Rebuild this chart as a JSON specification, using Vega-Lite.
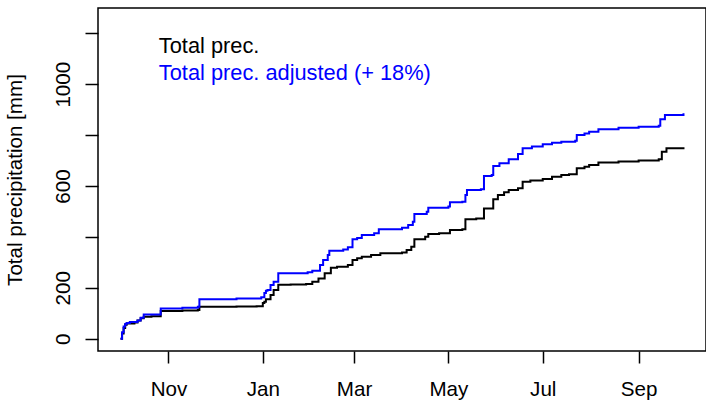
{
  "$schema": "https://vega.github.io/schema/vega-lite/v6.json",
  "width": 608,
  "height": 343,
  "autosize": {"type": "none"},
  "padding": {"left": 98, "top": 8, "right": 0, "bottom": 53},
  "background": "white",
  "config": {
    "font": "Liberation Sans",
    "view": {"stroke": "black", "strokeWidth": 1.5}
  },
  "data": {"values": [
    {"date":"2010-10-01T00:00","v":0,"s":"Total prec."},
    {"date":"2010-10-02T00:00","v":20,"s":"Total prec."},
    {"date":"2010-10-03T00:00","v":42,"s":"Total prec."},
    {"date":"2010-10-04T00:00","v":55,"s":"Total prec."},
    {"date":"2010-10-05T00:00","v":60,"s":"Total prec."},
    {"date":"2010-10-10T00:00","v":64,"s":"Total prec."},
    {"date":"2010-10-12T00:00","v":72,"s":"Total prec."},
    {"date":"2010-10-14T00:00","v":80,"s":"Total prec."},
    {"date":"2010-10-16T00:00","v":86,"s":"Total prec."},
    {"date":"2010-10-21T00:00","v":88,"s":"Total prec."},
    {"date":"2010-10-27T00:00","v":109,"s":"Total prec."},
    {"date":"2010-11-10T00:00","v":111,"s":"Total prec."},
    {"date":"2010-11-20T00:00","v":113,"s":"Total prec."},
    {"date":"2010-11-21T00:00","v":126,"s":"Total prec."},
    {"date":"2010-12-15T00:00","v":127,"s":"Total prec."},
    {"date":"2010-12-28T00:00","v":128,"s":"Total prec."},
    {"date":"2011-01-01T00:00","v":140,"s":"Total prec."},
    {"date":"2011-01-02T00:00","v":145,"s":"Total prec."},
    {"date":"2011-01-03T00:00","v":155,"s":"Total prec."},
    {"date":"2011-01-06T00:00","v":172,"s":"Total prec."},
    {"date":"2011-01-08T00:00","v":191,"s":"Total prec."},
    {"date":"2011-01-11T00:00","v":212,"s":"Total prec."},
    {"date":"2011-01-19T00:00","v":213,"s":"Total prec."},
    {"date":"2011-01-29T00:00","v":215,"s":"Total prec."},
    {"date":"2011-02-02T00:00","v":224,"s":"Total prec."},
    {"date":"2011-02-06T00:00","v":237,"s":"Total prec."},
    {"date":"2011-02-10T00:00","v":257,"s":"Total prec."},
    {"date":"2011-02-14T00:00","v":279,"s":"Total prec."},
    {"date":"2011-02-18T00:00","v":283,"s":"Total prec."},
    {"date":"2011-02-25T00:00","v":290,"s":"Total prec."},
    {"date":"2011-02-28T00:00","v":309,"s":"Total prec."},
    {"date":"2011-03-03T00:00","v":316,"s":"Total prec."},
    {"date":"2011-03-06T00:00","v":322,"s":"Total prec."},
    {"date":"2011-03-12T00:00","v":329,"s":"Total prec."},
    {"date":"2011-03-18T00:00","v":336,"s":"Total prec."},
    {"date":"2011-04-01T00:00","v":339,"s":"Total prec."},
    {"date":"2011-04-04T00:00","v":349,"s":"Total prec."},
    {"date":"2011-04-07T00:00","v":361,"s":"Total prec."},
    {"date":"2011-04-09T00:00","v":391,"s":"Total prec."},
    {"date":"2011-04-16T00:00","v":401,"s":"Total prec."},
    {"date":"2011-04-18T00:00","v":411,"s":"Total prec."},
    {"date":"2011-04-25T00:00","v":414,"s":"Total prec."},
    {"date":"2011-05-02T00:00","v":427,"s":"Total prec."},
    {"date":"2011-05-10T00:00","v":430,"s":"Total prec."},
    {"date":"2011-05-12T00:00","v":469,"s":"Total prec."},
    {"date":"2011-05-19T00:00","v":472,"s":"Total prec."},
    {"date":"2011-05-24T00:00","v":512,"s":"Total prec."},
    {"date":"2011-05-30T00:00","v":548,"s":"Total prec."},
    {"date":"2011-06-02T00:00","v":565,"s":"Total prec."},
    {"date":"2011-06-06T00:00","v":575,"s":"Total prec."},
    {"date":"2011-06-09T00:00","v":584,"s":"Total prec."},
    {"date":"2011-06-15T00:00","v":591,"s":"Total prec."},
    {"date":"2011-06-18T00:00","v":617,"s":"Total prec."},
    {"date":"2011-06-23T00:00","v":622,"s":"Total prec."},
    {"date":"2011-07-01T00:00","v":628,"s":"Total prec."},
    {"date":"2011-07-07T00:00","v":636,"s":"Total prec."},
    {"date":"2011-07-13T00:00","v":643,"s":"Total prec."},
    {"date":"2011-07-18T00:00","v":646,"s":"Total prec."},
    {"date":"2011-07-23T00:00","v":670,"s":"Total prec."},
    {"date":"2011-07-28T00:00","v":676,"s":"Total prec."},
    {"date":"2011-07-31T00:00","v":683,"s":"Total prec."},
    {"date":"2011-08-06T00:00","v":692,"s":"Total prec."},
    {"date":"2011-08-19T00:00","v":696,"s":"Total prec."},
    {"date":"2011-09-01T00:00","v":700,"s":"Total prec."},
    {"date":"2011-09-14T00:00","v":705,"s":"Total prec."},
    {"date":"2011-09-16T00:00","v":735,"s":"Total prec."},
    {"date":"2011-09-19T00:00","v":748,"s":"Total prec."},
    {"date":"2011-09-30T00:00","v":752,"s":"Total prec."},
    {"date":"2010-10-01T00:00","v":0,"s":"Total prec. adjusted (+ 18%)"},
    {"date":"2010-10-02T00:00","v":25,"s":"Total prec. adjusted (+ 18%)"},
    {"date":"2010-10-03T00:00","v":48,"s":"Total prec. adjusted (+ 18%)"},
    {"date":"2010-10-04T00:00","v":58,"s":"Total prec. adjusted (+ 18%)"},
    {"date":"2010-10-05T00:00","v":62,"s":"Total prec. adjusted (+ 18%)"},
    {"date":"2010-10-07T00:00","v":66,"s":"Total prec. adjusted (+ 18%)"},
    {"date":"2010-10-12T00:00","v":72,"s":"Total prec. adjusted (+ 18%)"},
    {"date":"2010-10-14T00:00","v":82,"s":"Total prec. adjusted (+ 18%)"},
    {"date":"2010-10-16T00:00","v":95,"s":"Total prec. adjusted (+ 18%)"},
    {"date":"2010-10-27T00:00","v":119,"s":"Total prec. adjusted (+ 18%)"},
    {"date":"2010-11-10T00:00","v":122,"s":"Total prec. adjusted (+ 18%)"},
    {"date":"2010-11-20T00:00","v":126,"s":"Total prec. adjusted (+ 18%)"},
    {"date":"2010-11-21T00:00","v":155,"s":"Total prec. adjusted (+ 18%)"},
    {"date":"2010-12-15T00:00","v":158,"s":"Total prec. adjusted (+ 18%)"},
    {"date":"2010-12-31T00:00","v":163,"s":"Total prec. adjusted (+ 18%)"},
    {"date":"2011-01-02T00:00","v":180,"s":"Total prec. adjusted (+ 18%)"},
    {"date":"2011-01-03T00:00","v":188,"s":"Total prec. adjusted (+ 18%)"},
    {"date":"2011-01-04T00:00","v":191,"s":"Total prec. adjusted (+ 18%)"},
    {"date":"2011-01-06T00:00","v":211,"s":"Total prec. adjusted (+ 18%)"},
    {"date":"2011-01-08T00:00","v":224,"s":"Total prec. adjusted (+ 18%)"},
    {"date":"2011-01-11T00:00","v":257,"s":"Total prec. adjusted (+ 18%)"},
    {"date":"2011-01-30T00:00","v":261,"s":"Total prec. adjusted (+ 18%)"},
    {"date":"2011-02-02T00:00","v":267,"s":"Total prec. adjusted (+ 18%)"},
    {"date":"2011-02-07T00:00","v":290,"s":"Total prec. adjusted (+ 18%)"},
    {"date":"2011-02-09T00:00","v":309,"s":"Total prec. adjusted (+ 18%)"},
    {"date":"2011-02-12T00:00","v":329,"s":"Total prec. adjusted (+ 18%)"},
    {"date":"2011-02-13T00:00","v":346,"s":"Total prec. adjusted (+ 18%)"},
    {"date":"2011-02-22T00:00","v":351,"s":"Total prec. adjusted (+ 18%)"},
    {"date":"2011-02-25T00:00","v":359,"s":"Total prec. adjusted (+ 18%)"},
    {"date":"2011-02-28T00:00","v":391,"s":"Total prec. adjusted (+ 18%)"},
    {"date":"2011-03-03T00:00","v":396,"s":"Total prec. adjusted (+ 18%)"},
    {"date":"2011-03-06T00:00","v":407,"s":"Total prec. adjusted (+ 18%)"},
    {"date":"2011-03-14T00:00","v":414,"s":"Total prec. adjusted (+ 18%)"},
    {"date":"2011-03-17T00:00","v":430,"s":"Total prec. adjusted (+ 18%)"},
    {"date":"2011-04-01T00:00","v":436,"s":"Total prec. adjusted (+ 18%)"},
    {"date":"2011-04-05T00:00","v":447,"s":"Total prec. adjusted (+ 18%)"},
    {"date":"2011-04-08T00:00","v":460,"s":"Total prec. adjusted (+ 18%)"},
    {"date":"2011-04-09T00:00","v":490,"s":"Total prec. adjusted (+ 18%)"},
    {"date":"2011-04-17T00:00","v":499,"s":"Total prec. adjusted (+ 18%)"},
    {"date":"2011-04-18T00:00","v":515,"s":"Total prec. adjusted (+ 18%)"},
    {"date":"2011-05-01T00:00","v":519,"s":"Total prec. adjusted (+ 18%)"},
    {"date":"2011-05-02T00:00","v":536,"s":"Total prec. adjusted (+ 18%)"},
    {"date":"2011-05-10T00:00","v":538,"s":"Total prec. adjusted (+ 18%)"},
    {"date":"2011-05-12T00:00","v":565,"s":"Total prec. adjusted (+ 18%)"},
    {"date":"2011-05-13T00:00","v":584,"s":"Total prec. adjusted (+ 18%)"},
    {"date":"2011-05-22T00:00","v":587,"s":"Total prec. adjusted (+ 18%)"},
    {"date":"2011-05-24T00:00","v":639,"s":"Total prec. adjusted (+ 18%)"},
    {"date":"2011-05-29T00:00","v":643,"s":"Total prec. adjusted (+ 18%)"},
    {"date":"2011-05-30T00:00","v":679,"s":"Total prec. adjusted (+ 18%)"},
    {"date":"2011-06-03T00:00","v":689,"s":"Total prec. adjusted (+ 18%)"},
    {"date":"2011-06-09T00:00","v":705,"s":"Total prec. adjusted (+ 18%)"},
    {"date":"2011-06-15T00:00","v":726,"s":"Total prec. adjusted (+ 18%)"},
    {"date":"2011-06-18T00:00","v":748,"s":"Total prec. adjusted (+ 18%)"},
    {"date":"2011-06-24T00:00","v":755,"s":"Total prec. adjusted (+ 18%)"},
    {"date":"2011-07-01T00:00","v":764,"s":"Total prec. adjusted (+ 18%)"},
    {"date":"2011-07-07T00:00","v":770,"s":"Total prec. adjusted (+ 18%)"},
    {"date":"2011-07-13T00:00","v":774,"s":"Total prec. adjusted (+ 18%)"},
    {"date":"2011-07-22T00:00","v":778,"s":"Total prec. adjusted (+ 18%)"},
    {"date":"2011-07-23T00:00","v":800,"s":"Total prec. adjusted (+ 18%)"},
    {"date":"2011-07-28T00:00","v":806,"s":"Total prec. adjusted (+ 18%)"},
    {"date":"2011-07-31T00:00","v":813,"s":"Total prec. adjusted (+ 18%)"},
    {"date":"2011-08-06T00:00","v":823,"s":"Total prec. adjusted (+ 18%)"},
    {"date":"2011-08-19T00:00","v":829,"s":"Total prec. adjusted (+ 18%)"},
    {"date":"2011-09-01T00:00","v":833,"s":"Total prec. adjusted (+ 18%)"},
    {"date":"2011-09-14T00:00","v":837,"s":"Total prec. adjusted (+ 18%)"},
    {"date":"2011-09-15T00:00","v":862,"s":"Total prec. adjusted (+ 18%)"},
    {"date":"2011-09-18T00:00","v":879,"s":"Total prec. adjusted (+ 18%)"},
    {"date":"2011-09-30T00:00","v":886,"s":"Total prec. adjusted (+ 18%)"}
  ]},
  "mark": {"type": "line", "interpolate": "step-after", "strokeWidth": 2},
  "encoding": {
    "x": {
      "field": "date", "type": "temporal",
      "scale": {"domain": [{"year":2010,"month":9,"date":16,"hours":10,"minutes":34},{"year":2011,"month":10,"date":14,"hours":13,"minutes":26}]},
      "axis": {
        "title": null, "grid": false, "domain": false,
        "values": [{"year":2010,"month":11,"date":1},{"year":2011,"month":1,"date":1},{"year":2011,"month":3,"date":1},{"year":2011,"month":5,"date":1},{"year":2011,"month":7,"date":1},{"year":2011,"month":9,"date":1}],
        "format": "%b", "labelFontSize": 20.6, "labelColor": "black",
        "tickSize": 12, "tickWidth": 1.5, "tickColor": "black",
        "labelPadding": 32, "labelBaseline": "alphabetic", "labelFlush": false, "labelOverlap": false
      }
    },
    "y": {
      "field": "v", "type": "quantitative",
      "scale": {"domain": [-48.3, 1299.4], "nice": false, "zero": false},
      "axis": {
        "title": "Total precipitation [mm]", "grid": false, "domain": false,
        "values": [0,200,400,600,800,1000,1200],
        "format": "d",
        "labelExpr": "indexof([0,200,600,1000], datum.value) >= 0 ? datum.label : ''",
        "labelAngle": -90, "labelAlign": "center", "labelBaseline": "alphabetic",
        "labelFontSize": 20.6, "labelColor": "black", "labelPadding": 16,
        "tickSize": 13, "tickWidth": 1.5, "tickColor": "black",
        "labelFlush": false, "labelOverlap": false,
        "titleFontSize": 20.6, "titleFontWeight": "normal", "titleColor": "black",
        "titleAngle": -90, "titleX": -77, "titleY": 171.5, "titleAlign": "center", "titleBaseline": "alphabetic"
      }
    },
    "color": {
      "field": "s", "type": "nominal",
      "scale": {"domain": ["Total prec.", "Total prec. adjusted (+ 18%)"], "range": ["black", "#0000ff"]},
      "legend": {
        "title": null, "orient": "none", "legendX": 39, "legendY": 27, "direction": "vertical",
        "symbolSize": 0, "symbolStrokeWidth": 0, "symbolOpacity": 0, "labelOffset": 0,
        "labelFontSize": 21.8, "rowPadding": 4, "padding": 0, "labelLimit": 0,
        "encode": {"labels": {"update": {"fill": {"signal": "datum.label === 'Total prec.' ? 'black' : '#0000ff'"}}}}
      }
    }
  }
}
